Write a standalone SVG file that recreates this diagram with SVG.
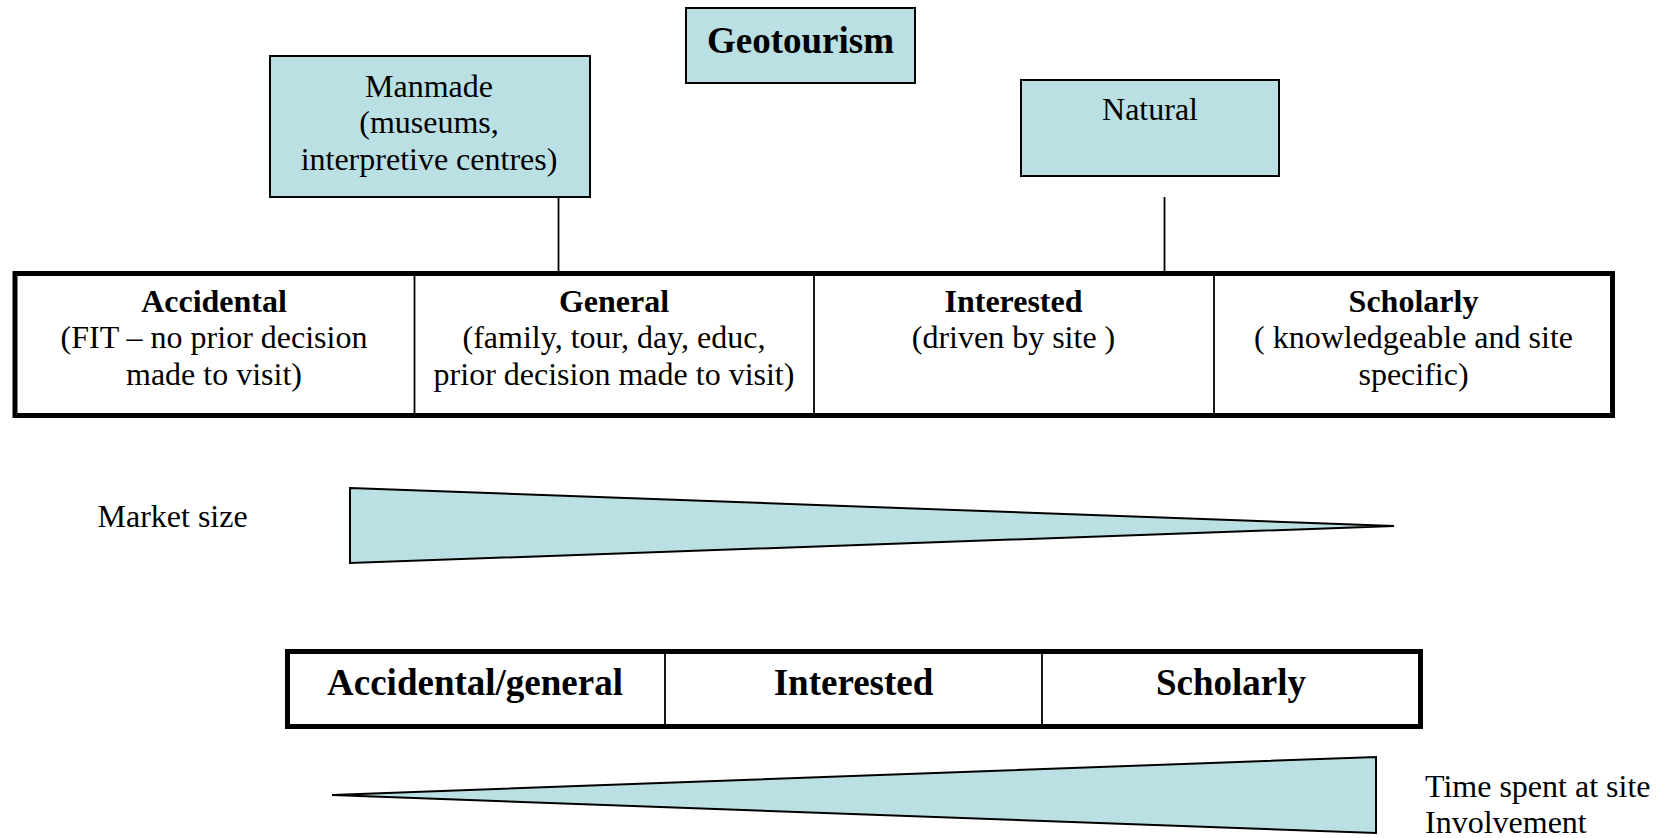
<svg xmlns="http://www.w3.org/2000/svg" width="1658" height="838" viewBox="0 0 1658 838">
<style>
.box{fill:#bae0e3;stroke:#000;stroke-width:2}
.tbl{fill:#fff;stroke:#000;stroke-width:5}
.div{stroke:#000;stroke-width:1.8}
.con{stroke:#000;stroke-width:1.8;fill:none}
.tri{fill:#bae0e3;stroke:#000;stroke-width:2;stroke-linejoin:miter}
text{font-family:"Liberation Serif","Times New Roman",serif;fill:#000}
.r{font-size:32px}
.b{font-size:32px;font-weight:bold}
.bb{font-size:37px;font-weight:bold}
.c{text-anchor:middle}
</style>
<rect width="1658" height="838" fill="#fff"/>
<g id="geotourism">
<rect class="box" x="686" y="8" width="229" height="75"/>
<text class="bb c" x="800.5" y="53">Geotourism</text>
</g>
<g id="manmade">
<rect class="box" x="270" y="56" width="320" height="141"/>
<text class="r c" x="429" y="97">Manmade</text>
<text class="r c" x="429" y="133">(museums,</text>
<text class="r c" x="429" y="170">interpretive centres)</text>
</g>
<g id="natural">
<rect class="box" x="1021" y="80" width="258" height="96"/>
<text class="r c" x="1150" y="120">Natural</text>
</g>
<g id="connectors">
<line class="con" x1="558.5" y1="197" x2="558.5" y2="272"/>
<line class="con" x1="1164.5" y1="197" x2="1164.5" y2="272"/>
</g>
<g id="top-table">
<rect class="tbl" x="15" y="273.5" width="1597.5" height="142"/>
<line class="div" x1="414.5" y1="276" x2="414.5" y2="413"/>
<line class="div" x1="814" y1="276" x2="814" y2="413"/>
<line class="div" x1="1214" y1="276" x2="1214" y2="413"/>
</g>
<g id="accidental">
<text class="b c" x="214" y="312">Accidental</text>
<text class="r c" x="214" y="348">(FIT – no prior decision</text>
<text class="r c" x="214" y="385">made to visit)</text>
</g>
<g id="general">
<text class="b c" x="614" y="312">General</text>
<text class="r c" x="614" y="348">(family, tour, day, educ,</text>
<text class="r c" x="614" y="385">prior decision made to visit)</text>
</g>
<g id="interested">
<text class="b c" x="1013.5" y="312">Interested</text>
<text class="r c" x="1013.5" y="348">(driven by site )</text>
</g>
<g id="scholarly">
<text class="b c" x="1413.5" y="312">Scholarly</text>
<text class="r c" x="1413.5" y="348">( knowledgeable and site</text>
<text class="r c" x="1413.5" y="385">specific)</text>
</g>
<g id="market-size">
<text class="r" x="97.5" y="527">Market size</text>
<polygon class="tri" points="350,488 1394,526 350,563"/>
</g>
<g id="bottom-table">
<rect class="tbl" x="287.5" y="651.5" width="1133" height="75"/>
<line class="div" x1="665" y1="654" x2="665" y2="724"/>
<line class="div" x1="1042" y1="654" x2="1042" y2="724"/>
<text class="bb c" x="475" y="695">Accidental/general</text>
<text class="bb c" x="853.5" y="695">Interested</text>
<text class="bb c" x="1231" y="695">Scholarly</text>
</g>
<g id="time-spent">
<polygon class="tri" points="332,795 1376,757 1376,833"/>
<text class="r" x="1425" y="797">Time spent at site</text>
<text class="r" x="1425" y="833">Involvement</text>
</g>
</svg>
